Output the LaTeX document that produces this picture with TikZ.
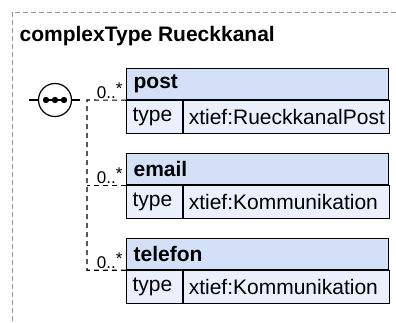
\documentclass[tikz,border=0pt]{standalone}
\usepackage{fontspec}
\setmainfont{Liberation Sans}
\usetikzlibrary{positioning}
\definecolor{headblue}{RGB}{211,224,247}
\definecolor{rowblue}{RGB}{235,241,252}
\definecolor{framegray}{RGB}{150,150,150}
\begin{document}
\begin{tikzpicture}[x=1pt, y=-1pt, line width=1.2pt,
  elhead/.style={draw, fill=headblue, anchor=north west, inner xsep=7pt, inner ysep=0pt, text width=248pt, minimum height=31pt, align=left, font=\fontsize{21}{24}\selectfont\bfseries},
  typecell/.style={draw, fill=rowblue, anchor=north west, inner xsep=6pt, inner ysep=0pt, text width=44pt, minimum height=33pt, align=left, font=\fontsize{21}{24}\selectfont},
  valcell/.style={draw, fill=rowblue, anchor=north west, inner xsep=5pt, inner ysep=0pt, text width=196pt, minimum height=33pt, align=left, font=\fontsize{21}{24}\selectfont},
  mult/.style={anchor=south east, inner sep=1pt, font=\fontsize{17}{20}\selectfont},
  conn/.style={dash pattern=on 5pt off 4pt, line width=1.1pt}]
\useasboundingbox (0,0) rectangle (396,322);
% outer frame and title
\draw[framegray, line width=1pt, dash pattern=on 5pt off 3pt] (12,12) rectangle (420,340);
\node[anchor=base west, inner sep=0pt, font=\fontsize{21}{24}\selectfont\bfseries] (title) at (19,41) {complexType Rueckkanal};
% sequence symbol
\node[draw, circle, fill=white, minimum size=33pt, inner sep=0pt] (seq) at (55,100) {};
\coordinate (seqin) at (29,100);
\coordinate (seqout) at (80,100);
\draw (seqin) -- (seq.west);
\draw (seq.east) -- (seqout);
\draw[line width=1.6pt] (45,100) -- (65,100);
\foreach \dx in {46,55,64} \fill (\dx,100) circle (3.2pt);
% elements
\node[elhead] (post) at (126,68) {post};
\node[typecell] (posttype) at (post.south west) {type};
\node[valcell] (postval) at (posttype.north east) {xtief:RueckkanalPost};
\node[elhead] (email) at (126,153) {email};
\node[typecell] (emailtype) at (email.south west) {type};
\node[valcell] (emailval) at (emailtype.north east) {xtief:Kommunikation};
\node[elhead] (telefon) at (126,238) {telefon};
\node[typecell] (telefontype) at (telefon.south west) {type};
\node[valcell] (telefonval) at (telefontype.north east) {xtief:Kommunikation};
% connectors
\coordinate (fork) at (87,100);
\draw[conn] (post.south west) -- (fork) |- (telefon.south west);
\draw[conn] (email.south west) -- (email.south west -| fork);
\node[mult] (postm) at ([xshift=-2pt]post.south west) {0..\raisebox{4pt}{*}};
\node[mult] (emailm) at ([xshift=-2pt]email.south west) {0..\raisebox{4pt}{*}};
\node[mult] (telefonm) at ([xshift=-2pt]telefon.south west) {0..\raisebox{4pt}{*}};
\end{tikzpicture}
\end{document}
